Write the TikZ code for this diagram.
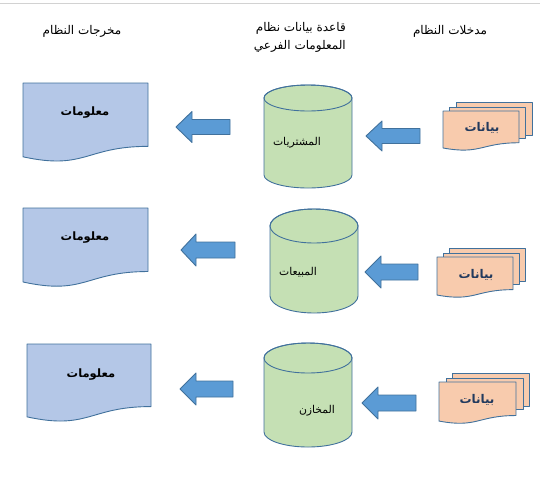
\documentclass[tikz,border=0pt]{standalone}
\usepackage{fontspec}
\TeXXeTstate=1
\newfontfamily\arabicfont[Script=Arabic]{DejaVu Sans}
\definecolor{lineblue}{HTML}{41719C}
\definecolor{docblue}{HTML}{B4C7E7}
\definecolor{cylgreen}{HTML}{C5E0B4}
\definecolor{arrowblue}{HTML}{5B9BD5}
\definecolor{stackpeach}{HTML}{F8CBAD}
\definecolor{stacktext}{HTML}{223A5E}
\tikzset{
  shapeline/.style={draw=lineblue, line width=0.9pt, line join=round},
  docstyle/.style={shapeline, fill=docblue},
  stackstyle/.style={shapeline, fill=stackpeach},
  cylstyle/.style={shapeline, fill=cylgreen},
  arrowstyle/.style={shapeline, fill=arrowblue},
  hdr/.style={font=\arabicfont\fontsize{12}{18}\selectfont, inner sep=0pt},
  doctext/.style={font=\arabicfont\bfseries\fontsize{11.5}{14}\selectfont, inner sep=0pt},
  cyltext/.style={font=\arabicfont\fontsize{10.8}{14}\selectfont, inner sep=0pt},
  stacktxt/.style={font=\arabicfont\bfseries\fontsize{12}{14}\selectfont, text=stacktext, inner sep=0pt}
}
% document shape: style, x0, y0, w, H
\newcommand\mydoc[5]{%
  \path[#1] (#2,#3) -- ({#2+#4},#3) -- ({#2+#4},{#3+0.802*#5})
    .. controls ({#2+0.5*#4},{#3+0.802*#5}) and ({#2+0.5*#4},{#3+1.1075*#5}) .. (#2,{#3+0.934*#5}) -- cycle;}
% cylinder: x0, x1, ytop, ry, ybottom
\newcommand\mycyl[5]{%
  \pgfmathsetmacro\cylcx{(#1+#2)/2}%
  \pgfmathsetmacro\cylrx{(#2-#1)/2}%
  \path[cylstyle] (#1,{#3+#4}) -- (#1,{#5-#4})
    arc[start angle=180, end angle=360, x radius=\cylrx pt, y radius=#4 pt]
    -- (#2,{#3+#4})
    arc[start angle=0, end angle=180, x radius=\cylrx pt, y radius=#4 pt] -- cycle;
  \draw[shapeline] (\cylcx,{#3+#4}) ellipse[x radius=\cylrx pt, y radius=#4 pt];}
% left block arrow: tip x, y centre, head back x, head half, shaft half, right x
\newcommand\myarrow[6]{%
  \path[arrowstyle] (#1,#2) -- (#3,{#2-#4}) -- (#3,{#2-#5}) -- (#6,{#2-#5})
    -- (#6,{#2+#5}) -- (#3,{#2+#5}) -- (#3,{#2+#4}) -- cycle;}
% stack of documents: back x0, back y0, mid x0, mid y0, front x0, front y0, w, H
\newcommand\mystack[8]{%
  \path[stackstyle] (#1,#2) rectangle ({#1+#7},{#2+33});
  \path[stackstyle] (#3,#4) rectangle ({#3+#7},{#4+31});
  \mydoc{stackstyle}{#5}{#6}{#7}{#8}}
\begin{document}
\begin{tikzpicture}[x=1pt, y=-1pt]
\useasboundingbox (0,0) rectangle (540,496);
\draw[gray!35, line width=1pt] (0,3) -- (540,3);

% headers
\node[hdr] (hout) at (82,31) {\beginR مخرجات النظام\endR};
\node[hdr, anchor=north east, align=right] (hdb) at (346,22)
  {\beginR قاعدة بيانات نظام\endR\\ \beginR المعلومات الفرعي\endR};
\node[hdr] (hin) at (450,31) {\beginR مدخلات النظام\endR};

% row 1
\mydoc{docstyle}{23}{83}{125}{79}
\node[doctext] (out1) at (85,113) {\beginR معلومات\endR};
\myarrow{176}{127}{192}{15.5}{7.5}{230}
\mycyl{264}{352}{85}{13}{188}
\node[cyltext] (db1) at (297,143) {\beginR المشتريات\endR};
\myarrow{366}{136}{382}{15}{7.5}{420}
\mystack{456}{102}{449}{107}{443}{111}{76}{39.6}
\node[stacktxt] (in1) at (482,128) {\beginR بيانات\endR};

% row 2
\mydoc{docstyle}{23}{208}{125}{79.2}
\node[doctext] (out2) at (85,238) {\beginR معلومات\endR};
\myarrow{181}{250}{196}{16}{8}{235}
\mycyl{270}{358}{209}{17}{313}
\node[cyltext] (db2) at (298,272) {\beginR المبيعات\endR};
\myarrow{365}{272}{381}{16}{8}{418}
\mystack{449}{248}{443}{253}{437}{257}{76}{40.7}
\node[stacktxt] (in2) at (476,275) {\beginR بيانات\endR};

% row 3
\mydoc{docstyle}{27}{344}{124}{78}
\node[doctext] (out3) at (91,375) {\beginR معلومات\endR};
\myarrow{180}{389}{196}{16}{8}{233}
\mycyl{264}{352}{343}{15}{447}
\node[cyltext] (db3) at (317,411) {\beginR المخازن\endR};
\myarrow{362}{403}{378}{16}{8}{416}
\mystack{452}{373}{446}{378}{439}{382}{77}{41.8}
\node[stacktxt] (in3) at (477,400) {\beginR بيانات\endR};
\end{tikzpicture}
\end{document}
